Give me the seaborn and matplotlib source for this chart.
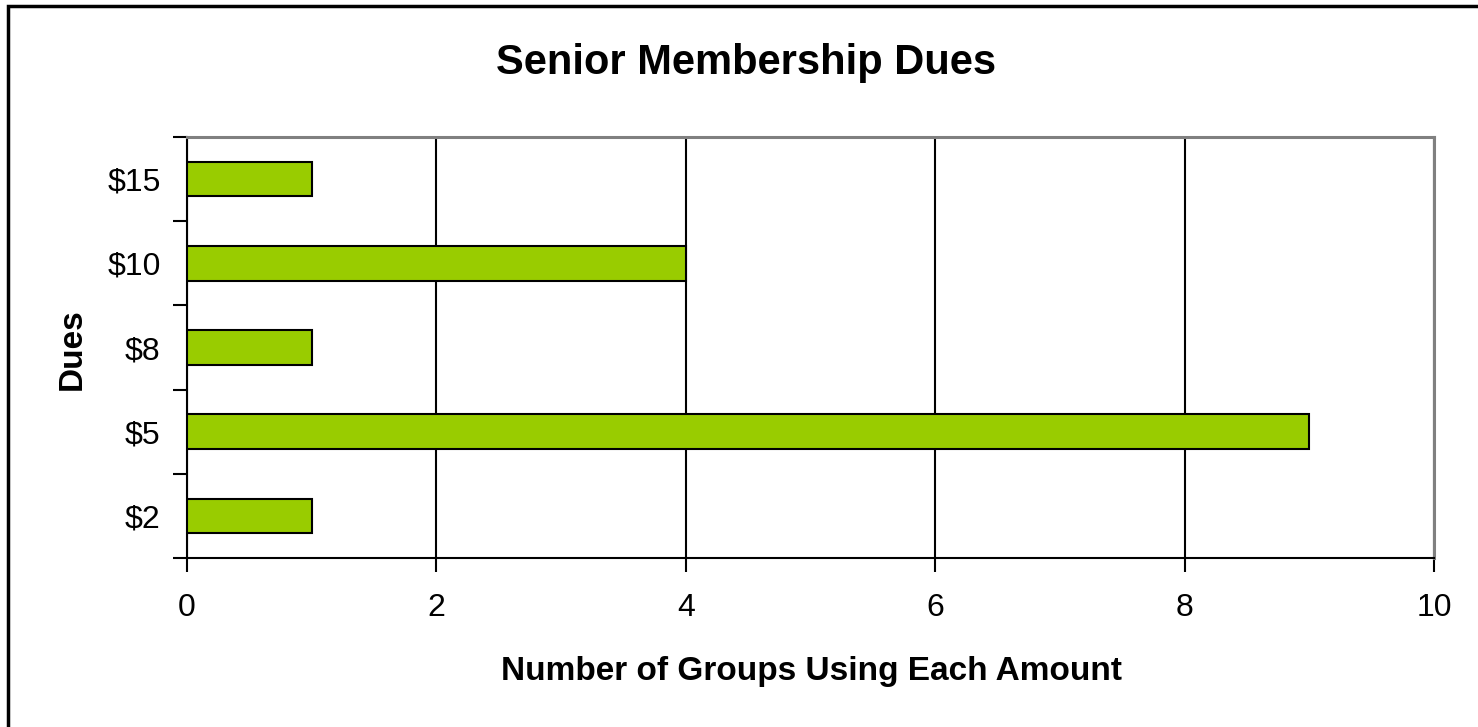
import matplotlib
matplotlib.use("Agg")
import matplotlib.pyplot as plt
import seaborn as sns
import pandas as pd
from matplotlib.patches import Rectangle

categories = ["$15", "$10", "$8", "$5", "$2"]
counts = [1, 4, 1, 9, 1]
x_ticks = [0, 2, 4, 6, 8, 10]

sns.set_theme(style="white")
plt.rcParams["font.family"] = ["Liberation Sans", "DejaVu Sans"]
plt.rcParams["text.color"] = "black"
plt.rcParams["xtick.color"] = "black"
plt.rcParams["ytick.color"] = "black"
plt.rcParams["axes.labelcolor"] = "black"

df = pd.DataFrame({"Dues": categories, "Count": counts})

W, H = 1478, 727
fig = plt.figure(figsize=(W / 100, H / 100), dpi=100)
ax = fig.add_axes([187 / W, 1 - 558 / H, (1434 - 187) / W, (558 - 137) / H])

sns.barplot(data=df, x="Count", y="Dues", order=categories, orient="h",
            color="#99CC00", saturation=1, width=0.41,
            edgecolor="black", linewidth=1.5, ax=ax, zorder=3)

ax.set_xlim(0, 10)
ax.set_ylim(len(categories) - 0.5, -0.5)
ax.set_xticks(x_ticks)
ax.set_xticklabels([str(v) for v in x_ticks], fontsize=23)
ax.grid(axis="x", color="black", linewidth=1.5, zorder=0)
ax.grid(axis="y", visible=False)
ax.set_axisbelow(True)

# category boundary ticks (major) and labels at centers (minor)
ax.set_yticks([i - 0.5 for i in range(len(categories) + 1)])
ax.set_yticklabels([])
ax.set_yticks(range(len(categories)), minor=True)
ax.set_yticklabels(categories, minor=True, fontsize=23)
ax.tick_params(axis="y", which="major", length=10, width=1.5, color="black", left=True)
ax.tick_params(axis="y", which="minor", length=0, pad=19)
ax.tick_params(axis="x", which="major", length=10, width=1.5, color="black", bottom=True, pad=15)

for side in ["left", "bottom"]:
    ax.spines[side].set_color("black")
    ax.spines[side].set_linewidth(1.5)
for side in ["top", "right"]:
    ax.spines[side].set_color("#808080")
    ax.spines[side].set_linewidth(2.2)
    ax.spines[side].set_visible(True)

ax.set_xlabel("")
ax.set_ylabel("")
fig.text(811 / W, 1 - 680 / H, "Number of Groups Using Each Amount", fontsize=24,
         fontweight="bold", ha="center", va="baseline")
fig.text(72 / W, 1 - 349 / H, "Dues", fontsize=24, fontweight="bold",
         rotation=90, ha="center", va="center")

fig.text(746 / W, 1 - 74 / H, "Senior Membership Dues", fontsize=30, fontweight="bold",
         ha="center", va="baseline")

fig.patches.append(Rectangle((8 / W, -0.1), 1.2, 1 - 6 / H + 0.1, transform=fig.transFigure,
                             fill=False, edgecolor="black", linewidth=2.5))

fig.savefig("out.png", dpi=100, facecolor="white")
